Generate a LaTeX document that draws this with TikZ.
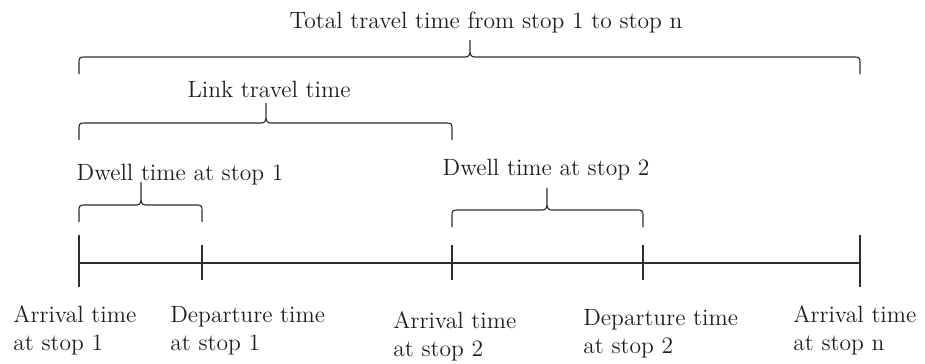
\documentclass[tikz,border=0pt]{standalone}
\usepackage{tikz}
\usetikzlibrary{positioning}
\definecolor{tlink}{RGB}{30, 30, 30}
\definecolor{tline}{RGB}{45, 45, 45}

% brace: left x, right x, tip x, line y, tip rise
\newcommand{\spanbrace}[5]{%
  \draw[tline, line width=0.65pt]
    (#1,#4+17) -- (#1,#4+5) .. controls (#1,#4+1) and (#1+1,#4) .. (#1+5,#4)
    -- (#3-5,#4) .. controls (#3-1,#4) and (#3,#4-2) .. (#3,#4-7)
    -- (#3,#4-#5) -- (#3,#4-7) .. controls (#3,#4-2) and (#3+1,#4) .. (#3+5,#4)
    -- (#2-5,#4) .. controls (#2-1,#4) and (#2,#4+1) .. (#2,#4+5) -- (#2,#4+17);}

\begin{document}
\begin{tikzpicture}[x=0.02cm, y=-0.02cm,
  every node/.style={font=\fontsize{13.4}{15.9}\selectfont, text=tlink, inner sep=0pt}]
  \useasboundingbox (0,0) rectangle (925,363);

  % Stops on the time axis
  \coordinate (arr1) at (79,263);
  \coordinate (dep1) at (202,263);
  \coordinate (arr2) at (452,263);
  \coordinate (dep2) at (643,263);
  \coordinate (arrn) at (860,263);

  % Time axis
  \draw[tline, line width=0.65pt] (arr1) -- (arrn);
  \draw[tline, line width=0.65pt] (arr1) ++(0,-28) -- ++(0,52);
  \draw[tline, line width=0.65pt] (arrn) ++(0,-28) -- ++(0,52);
  \draw[tline, line width=0.65pt] (dep1) ++(0,-18) -- ++(0,35);
  \draw[tline, line width=0.65pt] (arr2) ++(0,-18) -- ++(0,35);
  \draw[tline, line width=0.65pt] (dep2) ++(0,-18) -- ++(0,35);

  % Braces
  \spanbrace{79}{860}{470}{57}{17}
  \spanbrace{79}{452}{266}{123}{20}
  \spanbrace{79}{202}{141}{205}{23}
  \spanbrace{452}{643}{547}{210}{22}

  % Brace labels
  \node[anchor=base] (total) at (486,28) {Total travel time from stop 1 to stop n};
  \node[anchor=base] (link) at (269,97) {Link travel time};
  \node[anchor=base] (dwell1) at (180,180) {Dwell time at stop 1};
  \node[anchor=base] (dwell2) at (546,175) {Dwell time at stop 2};

  % Stop labels (base is the second line)
  \node[anchor=base west, align=left] (arr1lbl) at (13,350) {Arrival time\\at stop 1};
  \node[anchor=base west, align=left] (dep1lbl) at (170,350) {Departure time\\at stop 1};
  \node[anchor=base west, align=left] (arr2lbl) at (393,356) {Arrival time\\at stop 2};
  \node[anchor=base west, align=left] (dep2lbl) at (583,353) {Departure time\\at stop 2};
  \node[anchor=base west, align=left] (arrnlbl) at (793,350) {Arrival time\\at stop n};
\end{tikzpicture}
\end{document}
